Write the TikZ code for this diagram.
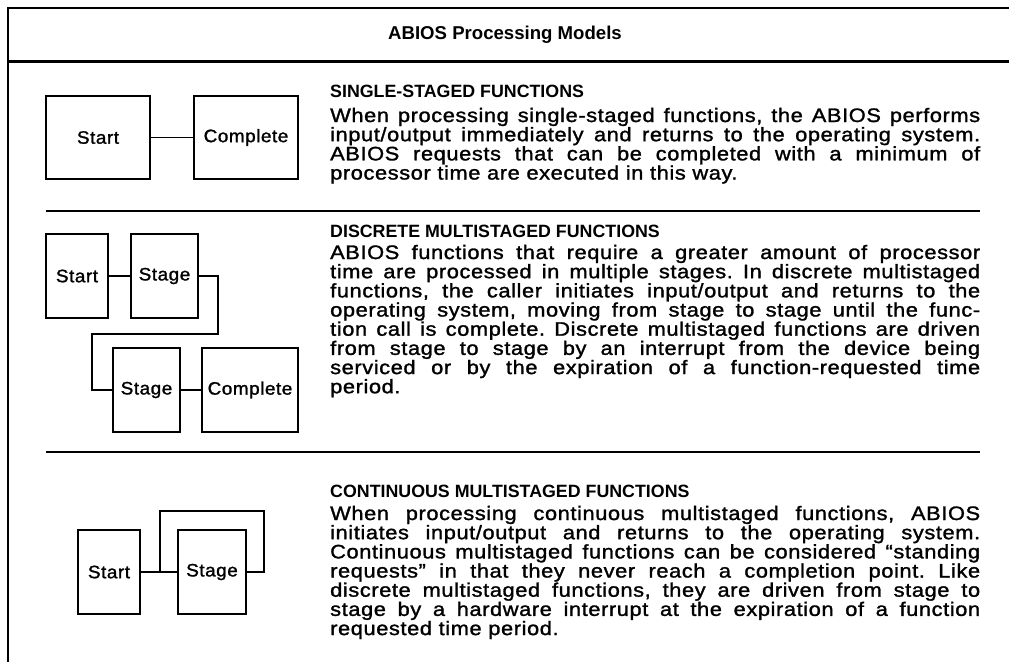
\documentclass[tikz,border=0pt]{standalone}
\usepackage{fontspec}
\setmainfont{Liberation Sans}
\newfontfamily\bodyfont{Liberation Sans}[FakeStretch=1.12,LetterSpace=3,FakeBold=1.4]
\newfontfamily\labelfont{Liberation Sans}[FakeStretch=1.05,LetterSpace=3,FakeBold=1.4]
\newlength\bodywd
\setlength\bodywd{650pt}
% a fully justified line (spaces share the slack) and a last, natural line
\newcommand\jline[1]{\hbox to\bodywd{\spaceskip=\fontdimen2\font plus 1fil\relax#1}}
\newcommand\lline[1]{\hbox{#1}}

\begin{document}
\begin{tikzpicture}[x=1pt,y=-1pt,
  frame/.style={line width=1.4pt},
  box/.style={draw,line width=1.6pt,inner sep=0pt,
    font=\labelfont\fontsize{18}{18}\selectfont},
  link/.style={line width=1.6pt},
  rule/.style={line width=1.6pt},
  title/.style={inner sep=0pt,font=\bfseries\fontsize{18.6}{20}\selectfont},
  head/.style={anchor=base west,inner sep=0pt,
    font=\bfseries\fontsize{17.8}{18}\selectfont},
  body/.style={anchor=base west,inner sep=0pt,
    font=\bodyfont\fontsize{19.5}{18}\selectfont\frenchspacing}]

\useasboundingbox (0,0) rectangle (1009,662);

% outer frame and title bar
\coordinate (tr) at (1009,8);
\coordinate (tl) at (8,8);
\coordinate (bl) at (8,662);
\coordinate (sl) at (8,61);
\coordinate (sr) at (1009,61);
\draw[frame] (tr) -- (tl) -- (bl);
\draw[line width=3pt] (sl) -- (sr);
\node[title] (title) at (505,35) {ABIOS Processing Models};

% section dividers
\coordinate (d1a) at (46,211);
\coordinate (d1b) at (980,211);
\coordinate (d2a) at (46,452);
\coordinate (d2b) at (980,452);
\draw[rule] (d1a) -- (d1b);
\draw[rule] (d2a) -- (d2b);

% ---- single-staged functions ----
\node[box,minimum width=104,minimum height=83] (s1a) at (98,137.5) {Start};
\node[box,minimum width=104,minimum height=83] (s1b) at (246,137.5) {Complete};
\draw[link] (s1a) -- (s1b);

\node[head] (h1) at (330,97) {SINGLE-STAGED FUNCTIONS};
\node[body] (t1) at (330,122) {\vtop{%
\jline{When processing single-staged functions, the ABIOS performs}
\jline{input/output immediately and returns to the operating system.}
\jline{ABIOS requests that can be completed with a minimum of}
\lline{processor time are executed in this way.}}};

% ---- discrete multistaged functions ----
\node[box,minimum width=62,minimum height=84] (s2a) at (77,276) {Start};
\node[box,minimum width=67,minimum height=84] (s2b) at (164.5,276) {Stage};
\node[box,minimum width=67,minimum height=84] (s2c) at (146.5,390) {Stage};
\node[box,minimum width=96,minimum height=84] (s2d) at (250,390) {Complete};
\coordinate (k1) at (218,334);
\coordinate (k2) at (92,334);
\draw[link] (s2a) -- (s2b);
\draw[link] (s2b.east) -| (k1) -- (k2) |- (s2c.west);
\draw[link] (s2c) -- (s2d);

\node[head] (h2) at (330,237) {DISCRETE MULTISTAGED FUNCTIONS};
\node[body] (t2) at (330,259) {\vtop{%
\jline{ABIOS functions that require a greater amount of processor}
\jline{time are processed in multiple stages. In discrete multistaged}
\jline{functions, the caller initiates input/output and returns to the}
\jline{operating system, moving from stage to stage until the func-}
\jline{tion call is complete. Discrete multistaged functions are driven}
\jline{from stage to stage by an interrupt from the device being}
\jline{serviced or by the expiration of a function-requested time}
\lline{period.}}};

% ---- continuous multistaged functions ----
\node[box,minimum width=62,minimum height=84] (s3a) at (109,572) {Start};
\node[box,minimum width=68,minimum height=84] (s3b) at (212,572) {Stage};
\coordinate (j3) at (160,572);
\coordinate (l3) at (264,511);
\draw[link] (s3a) -- (s3b);
\draw[link] (j3) |- (l3) |- (s3b.east);

\node[head] (h3) at (330,497) {CONTINUOUS MULTISTAGED FUNCTIONS};
\node[body] (t3) at (330,520) {\vtop{%
\jline{When processing continuous multistaged functions, ABIOS}
\jline{initiates input/output and returns to the operating system.}
\jline{Continuous multistaged functions can be considered “standing}
\jline{requests” in that they never reach a completion point. Like}
\jline{discrete multistaged functions, they are driven from stage to}
\jline{stage by a hardware interrupt at the expiration of a function}
\lline{requested time period.}}};

\end{tikzpicture}
\end{document}
